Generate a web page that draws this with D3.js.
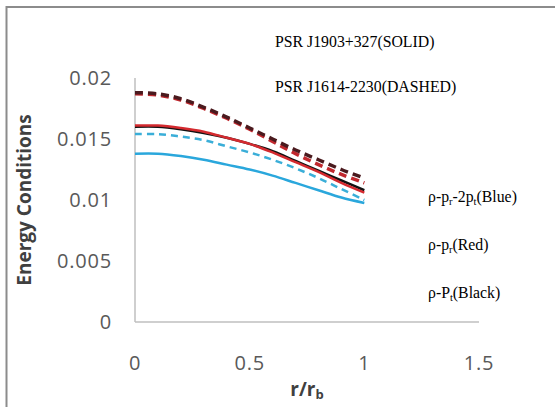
<!DOCTYPE html>
<html lang="en">
<head>
<meta charset="utf-8">
<title>Energy Conditions</title>
<style>
  body { margin: 0; background: #fff; }
  .tick-label { font: 20px "Open Sans", sans-serif; fill: #595959; letter-spacing: 0.8px; }
  .axis-title { font: bold 19px "Open Sans", sans-serif; fill: #404040; }
  .note { font: 15.8px "Liberation Serif", "Times New Roman", serif; fill: #000; }
</style>
<script src="https://cdn.jsdelivr.net/npm/d3@7"></script>
</head>
<body>
<svg width="555" height="407"></svg>
<script>
// r/rb sample points
const radius = [0, 0.1, 0.2, 0.3, 0.4, 0.5, 0.6, 0.7, 0.8, 0.9, 1.0];

// PSR J1903+327 (solid)
const solidBlue  = [0.0138, 0.0138, 0.0136, 0.0133, 0.0129, 0.0125, 0.0120, 0.0114, 0.0108, 0.0102, 0.00975];
const solidRed   = [0.0161, 0.0161, 0.0159, 0.0156, 0.0151, 0.0146, 0.0139, 0.0131, 0.0123, 0.0114, 0.0106];
const solidBlack = [0.0160, 0.0160, 0.0158, 0.0155, 0.0151, 0.0146, 0.0140, 0.0132, 0.0124, 0.0116, 0.0108];

// PSR J1614-2230 (dashed)
const dashBlue  = [0.0154, 0.0154, 0.0152, 0.0149, 0.0144, 0.0139, 0.0133, 0.0126, 0.0118, 0.0109, 0.0100];
const dashRed   = [0.0187, 0.0186, 0.0182, 0.0175, 0.0167, 0.0158, 0.0148, 0.0138, 0.0129, 0.0121, 0.0114];
const dashBlack = [0.0188, 0.0187, 0.0183, 0.0176, 0.0168, 0.0159, 0.0150, 0.0141, 0.0133, 0.0125, 0.0118];

const xTicks = [0, 0.5, 1, 1.5];
const yTicks = [0, 0.005, 0.01, 0.015, 0.02];

let svg = d3.select("svg");

let x = d3.scaleLinear().domain([0, 1.5]).range([135, 479]);
let y = d3.scaleLinear().domain([0, 0.02]).range([322, 78]);

// outer frame (left and top edges only are in view)
svg.append("path")
    .attr("d", "M6.5,407 V7 H555")
    .attr("fill", "none")
    .attr("stroke", "#8c8c8c")
    .attr("stroke-width", 2);

// axes lines
svg.append("line")
    .attr("x1", x(0)).attr("x2", x(0))
    .attr("y1", y(0.02)).attr("y2", y(0))
    .attr("stroke", "#bfbfbf").attr("stroke-width", 1.5);
svg.append("line")
    .attr("x1", x(0)).attr("x2", x(1.5))
    .attr("y1", y(0)).attr("y2", y(0))
    .attr("stroke", "#bfbfbf").attr("stroke-width", 1.5);

// tick labels
svg.selectAll(".ytick").data(yTicks).enter().append("text")
    .attr("class", "tick-label")
    .attr("x", 112)
    .attr("y", d => y(d))
    .attr("dy", "0.35em")
    .attr("text-anchor", "end")
    .text(d => d);

svg.selectAll(".xtick").data(xTicks).enter().append("text")
    .attr("class", "tick-label")
    .attr("x", d => x(d))
    .attr("y", 363)
    .attr("dy", "0.35em")
    .attr("text-anchor", "middle")
    .text(d => d);

// axis titles
svg.append("text")
    .attr("class", "axis-title")
    .attr("transform", "translate(31,200) rotate(-90)")
    .attr("text-anchor", "middle")
    .text("Energy Conditions");

let xt = svg.append("text")
    .attr("class", "axis-title")
    .attr("x", 307)
    .attr("y", 396)
    .attr("text-anchor", "middle");
xt.append("tspan").text("r/r");
xt.append("tspan").attr("font-size", "13px").attr("dy", 3).text("b");

// curves
let line = d3.line()
    .x((d, i) => x(radius[i]))
    .y(d => y(d))
    .curve(d3.curveCatmullRom);

const series = [
    { values: solidBlue,  color: "#2aa7dc", dash: null, width: 2.5 },
    { values: dashBlue,   color: "#3aaed8", dash: "7,5", width: 2.5 },
    { values: solidBlack, color: "#111111", dash: null, width: 2.5 },
    { values: solidRed,   color: "#d42a2f", dash: null, width: 2.5 },
    { values: dashRed,    color: "#c0272d", dash: "8,5", width: 3.5 },
    { values: dashBlack,  color: "#4a1a1e", dash: "8,5", width: 3.5 }
];

svg.selectAll(".curve").data(series).enter().append("path")
    .attr("class", "curve")
    .attr("d", d => line(d.values))
    .attr("fill", "none")
    .attr("stroke", d => d.color)
    .attr("stroke-width", d => d.width)
    .attr("stroke-dasharray", d => d.dash);

// notes
svg.append("text").attr("class", "note").attr("x", 275).attr("y", 47).text("PSR J1903+327(SOLID)");
svg.append("text").attr("class", "note").attr("x", 275).attr("y", 92).text("PSR J1614-2230(DASHED)");

function sub(sel, s) {
    sel.append("tspan").attr("font-size", "10.5px").attr("dy", 3).text(s);
    return sel;
}
function back(sel, s) {
    sel.append("tspan").attr("dy", -3).text(s);
}

let l1 = svg.append("text").attr("class", "note").attr("x", 428).attr("y", 202);
l1.append("tspan").text("ρ-p");
sub(l1, "r");
back(l1, "-2p");
sub(l1, "t");
back(l1, "(Blue)");

let l2 = svg.append("text").attr("class", "note").attr("x", 428).attr("y", 250);
l2.append("tspan").text("ρ-p");
sub(l2, "r");
back(l2, "(Red)");

let l3 = svg.append("text").attr("class", "note").attr("x", 428).attr("y", 298);
l3.append("tspan").text("ρ-P");
sub(l3, "t");
back(l3, "(Black)");
</script>
</body>
</html>
